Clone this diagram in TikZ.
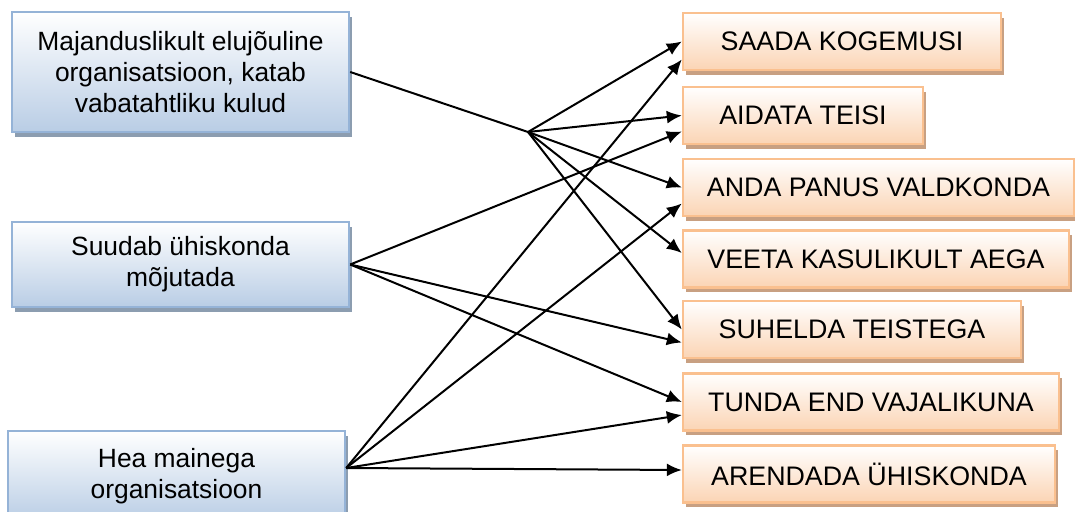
\documentclass[tikz,border=0pt]{standalone}
\usepackage{fontspec}
\setmainfont{Liberation Sans}
\usetikzlibrary{arrows.meta,shadows,calc}

\definecolor{lbfill}{RGB}{185,205,229}
\definecolor{lbdraw}{RGB}{149,179,215}
\definecolor{lbshadow}{RGB}{140,157,176}
\definecolor{rbfill}{RGB}{251,212,180}
\definecolor{rbdraw}{RGB}{250,192,143}
\definecolor{rbshadow}{RGB}{200,160,130}

\tikzset{%
        cause/.style={
                rectangle,
                draw=lbdraw,
                line width=1.2pt,
                top color=white,
                bottom color=lbfill,
                drop shadow={shadow xshift=1.5pt, shadow yshift=-2.3pt, fill=lbshadow, opacity=1},
                minimum width=168.5pt,
                align=center,
                font=\fontsize{13.2}{15.5}\selectfont
            },
        motive/.style={
                rectangle,
                draw=rbdraw,
                line width=1.2pt,
                top color=white,
                bottom color=rbfill,
                drop shadow={shadow xshift=1.5pt, shadow yshift=-2.3pt, fill=rbshadow, opacity=1},
                minimum height=28.5pt,
                align=center,
                font=\fontsize{13.4}{15.5}\selectfont
            }
    }

\begin{document}
\begin{tikzpicture}[x=0.5pt, y=-0.5pt, line width=1pt, >={Latex[length=7.5pt,width=6.5pt]}]

    \useasboundingbox (0,0) rectangle (1075,512);
    \clip (0,0) rectangle (1075,512);

    % organisation side:
        \node [cause, minimum height=60pt]   (maj) at (180.5,72) {Majanduslikult elujõuline\\organisatsioon, katab\\vabatahtliku kulud};
        \node [cause, minimum height=42.5pt] (suu) at (180.5,264.5) {Suudab ühiskonda\\mõjutada};
        \node [cause, minimum height=45pt]   (hea) at (176.5,476) {Hea mainega\\organisatsioon};

    % volunteer side:
        \node [motive, minimum width=159pt]   (saa) at (842,41.5) {SAADA KOGEMUSI};
        \node [motive, minimum width=120pt]   (aid) at (803,115.5) {AIDATA TEISI};
        \node [motive, minimum width=195.5pt] (and) at (878.5,187.5) {ANDA PANUS VALDKONDA};
        \node [motive, minimum width=193pt]   (vee) at (876,259) {VEETA KASULIKULT AEGA};
        \node [motive, minimum width=169pt]   (suh) at (852,329.5) {SUHELDA TEISTEGA};
        \node [motive, minimum width=188pt]   (tun) at (871,402) {TUNDA END VAJALIKUNA};
        \node [motive, minimum width=186pt]   (are) at (869,474) {ARENDADA ÜHISKONDA};

        \coordinate (hub) at (528,132);

        \draw (maj.east) -- (hub);
        \draw[->] (hub) -- (saa.west);
        \draw[->] (hub) -- (aid.west);
        \draw[->] (hub) -- (and.west);
        \draw[->] (hub) -- ($(vee.west)+(0,-6)$);
        \draw[->] (hub) -- (suh.west);

        \draw[->] (suu.east) -- ($(aid.west)+(0,16)$);
        \draw[->] (suu.east) -- ($(suh.west)+(0,13)$);
        \draw[->] (suu.east) -- (tun.west);

        \draw[->] ([yshift=4pt]hea.east) -- ($(saa.west)+(0,18)$);
        \draw[->] ([yshift=4pt]hea.east) -- ($(and.west)+(0,16)$);
        \draw[->] ([yshift=4pt]hea.east) -- ($(tun.west)+(0,13)$);
        \draw[->] ([yshift=4pt]hea.east) -- ($(are.west)+(0,-4)$);
    \end{tikzpicture}
\end{document}
